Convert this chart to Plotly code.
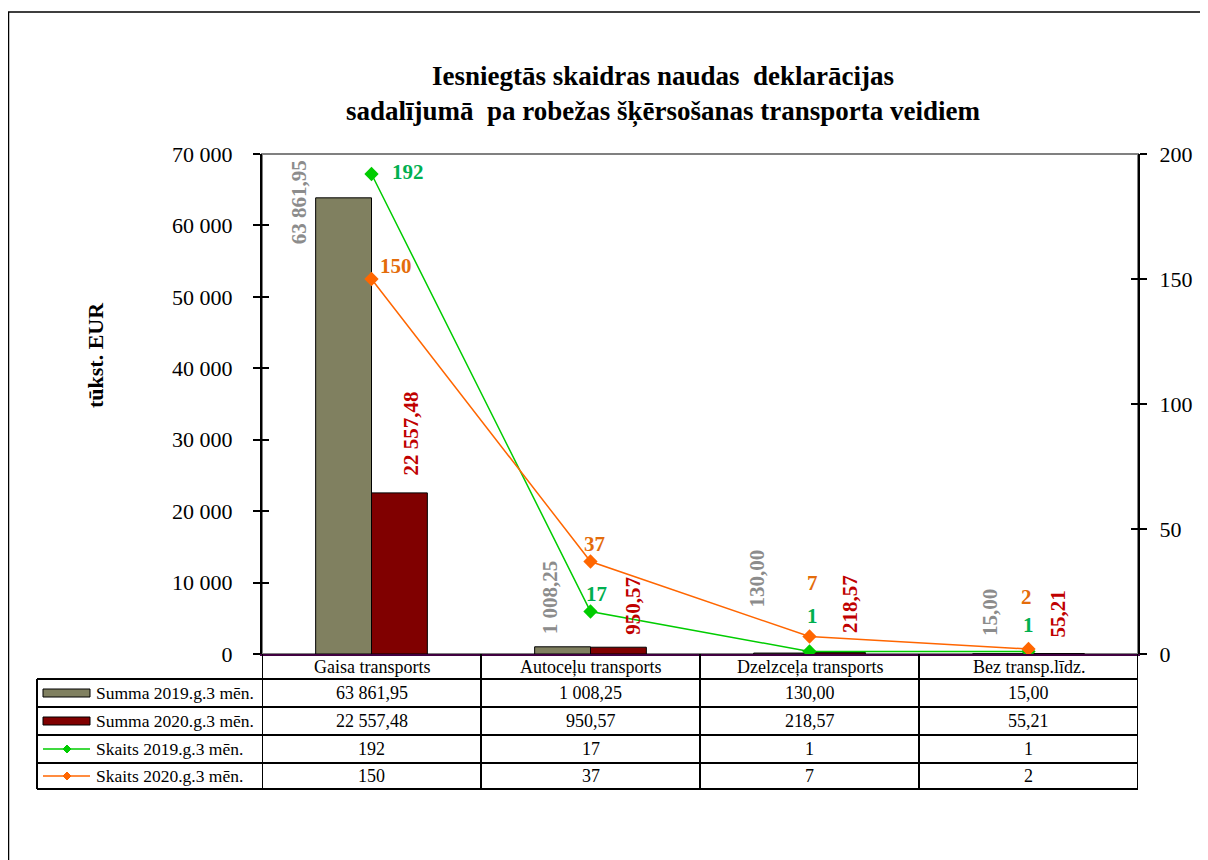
import plotly.graph_objects as go

# ---------------- data ----------------
categories = ["Gaisa transports", "Autoceļu transports", "Dzelzceļa transports", "Bez transp.līdz."]
summa_2019 = [63861.95, 1008.25, 130.00, 15.00]
summa_2020 = [22557.48, 950.57, 218.57, 55.21]
skaits_2019 = [192, 17, 1, 1]
skaits_2020 = [150, 37, 7, 2]
series_names = ["Summa 2019.g.3 mēn.", "Summa 2020.g.3 mēn.", "Skaits 2019.g.3 mēn.", "Skaits 2020.g.3 mēn."]
title_text = "Iesniegtās skaidras naudas\u00a0 deklarācijas<br>sadalījumā\u00a0 pa robežas šķērsošanas transporta veidiem"
y_title = "tūkst. EUR"

# ---------------- styles ----------------
OLIVE = "#808060"
MAROON = "#800000"
GREEN = "#00CC00"
ORANGE = "#FF6600"
GREEN_LBL = "#00B050"
ORANGE_LBL = "#E46C0A"
GRAY_LBL = "#8C8C8C"
RED_LBL = "#C00000"
FONT = "Liberation Serif"

# page offset (default body margin of the html page)
OFF = 8
W, H = 1208 - OFF, 860 - OFF
# plot area in page pixels
L, R, T, B = 262, 1138, 154, 654


def px(x):
    return (x - L) / (R - L)


def py(y):
    return (B - y) / (B - T)


def fmt2(v):
    return f"{v:,.2f}".replace(",", " ").replace(".", ",")


# label offsets (pixels)
lbl19_dx = [-73, -41, -52, -38]
lbl19_dy = [-49, 10, 43, 16]
lbl20_dx = [39, 43, 41, 30]
lbl20_dy = [15, 10, 17, 14]
sk19_dx = [36, 6, 3, 0]
sk19_dy = [2, 18, 36, 27]
sk20_dx = [24, 4, 3, -2]
sk20_dy = [13, 18, 54, 52]

fig = go.Figure()
fig.add_trace(go.Bar(x=categories, y=summa_2019, name=series_names[0],
                     marker=dict(color=OLIVE, line=dict(color="black", width=1))))
fig.add_trace(go.Bar(x=categories, y=summa_2020, name=series_names[1],
                     marker=dict(color=MAROON, line=dict(color="black", width=1))))
fig.add_trace(go.Scatter(x=categories, y=skaits_2019, name=series_names[2], yaxis="y2",
                         mode="lines+markers", line=dict(color=GREEN, width=1.5),
                         marker=dict(symbol="diamond", size=11, color=GREEN)))
fig.add_trace(go.Scatter(x=categories, y=skaits_2020, name=series_names[3], yaxis="y2",
                         mode="lines+markers", line=dict(color=ORANGE, width=1.5),
                         marker=dict(symbol="diamond", size=11, color=ORANGE)))
# invisible helpers so the inner tick axes are drawn
fig.add_trace(go.Scatter(x=categories, y=summa_2019, yaxis="y3", mode="markers",
                         marker=dict(opacity=0), hoverinfo="skip", showlegend=False))
fig.add_trace(go.Scatter(x=categories, y=skaits_2019, yaxis="y4", mode="markers",
                         marker=dict(opacity=0), hoverinfo="skip", showlegend=False))

ann = []
shapes = []

# title
ann.append(dict(text=title_text, xref="paper", yref="paper", x=px(663), y=py(94.5),
                xanchor="center", yanchor="middle", showarrow=False,
                font=dict(family=FONT, size=27, color="black", weight="bold")))
# y title
ann.append(dict(text=y_title, xref="paper", yref="paper", x=px(95), y=py(355),
                textangle=-90, xanchor="center", yanchor="middle", showarrow=False,
                font=dict(family=FONT, size=22, color="black", weight="bold")))

LBL = 21
# data labels
for i, c in enumerate(categories):
    ann.append(dict(text=fmt2(summa_2019[i]), x=c, y=summa_2019[i], xref="x", yref="y",
                    textangle=-90, xanchor="center", yanchor="bottom", showarrow=False,
                    xshift=lbl19_dx[i], yshift=lbl19_dy[i],
                    font=dict(family=FONT, size=LBL, color=GRAY_LBL, weight="bold")))
    ann.append(dict(text=fmt2(summa_2020[i]), x=c, y=summa_2020[i], xref="x", yref="y",
                    textangle=-90, xanchor="center", yanchor="bottom", showarrow=False,
                    xshift=lbl20_dx[i], yshift=lbl20_dy[i],
                    font=dict(family=FONT, size=LBL, color=RED_LBL, weight="bold")))
    ann.append(dict(text=str(skaits_2019[i]), x=c, y=skaits_2019[i], xref="x", yref="y2",
                    xanchor="center", yanchor="middle", showarrow=False,
                    xshift=sk19_dx[i], yshift=sk19_dy[i],
                    font=dict(family=FONT, size=LBL, color=GREEN_LBL, weight="bold")))
    ann.append(dict(text=str(skaits_2020[i]), x=c, y=skaits_2020[i], xref="x", yref="y2",
                    xanchor="center", yanchor="middle", showarrow=False,
                    xshift=sk20_dx[i], yshift=sk20_dy[i],
                    font=dict(family=FONT, size=LBL, color=ORANGE_LBL, weight="bold")))

# ---------------- data table ----------------
row_y = [654, 679, 707, 735, 763, 789]
tbl_left = 37
LINE = dict(color="black", width=2)
for yy in row_y[1:]:
    shapes.append(dict(type="line", xref="paper", yref="paper", x0=px(tbl_left), x1=1,
                       y0=py(yy), y1=py(yy), line=LINE))
shapes.append(dict(type="line", xref="paper", yref="paper", x0=px(tbl_left), x1=px(tbl_left),
                   y0=py(row_y[1]), y1=py(row_y[-1]), line=LINE))
for k in range(len(categories) + 1):
    shapes.append(dict(type="line", xref="x", yref="paper", x0=k - 0.5, x1=k - 0.5,
                       y0=0, y1=py(row_y[-1]), line=LINE))

table_font = dict(family=FONT, size=18, color="black")
hdr_y = (row_y[0] + row_y[1]) / 2
for c in categories:
    ann.append(dict(text=c, x=c, y=py(hdr_y), xref="x", yref="paper", xanchor="center",
                    yanchor="middle", showarrow=False, font=table_font))

rows_vals = [
    [fmt2(v) for v in summa_2019],
    [fmt2(v) for v in summa_2020],
    [str(v) for v in skaits_2019],
    [str(v) for v in skaits_2020],
]
swatch_colors = [OLIVE, MAROON, GREEN, ORANGE]
for r in range(4):
    cy = (row_y[r + 1] + row_y[r + 2]) / 2
    for i, c in enumerate(categories):
        ann.append(dict(text=rows_vals[r][i], x=c, y=py(cy), xref="x", yref="paper",
                        xanchor="center", yanchor="middle", showarrow=False, font=table_font))
    ann.append(dict(text=series_names[r], x=px(94), y=py(cy), xref="paper", yref="paper",
                    xanchor="left", yanchor="middle", showarrow=False,
                    font=dict(family=FONT, size=17.5, color="black")))
    if r < 2:
        shapes.append(dict(type="rect", xref="paper", yref="paper", x0=px(43), x1=px(90),
                           y0=py(cy + 4), y1=py(cy - 4), fillcolor=swatch_colors[r],
                           line=dict(color="black", width=1)))
    else:
        shapes.append(dict(type="line", xref="paper", yref="paper", x0=px(43), x1=px(90),
                           y0=py(cy), y1=py(cy), line=dict(color=swatch_colors[r], width=1.5)))
        cx = 67
        d = 4
        path = (f"M {px(cx)},{py(cy - d)} L {px(cx + d)},{py(cy)} L {px(cx)},{py(cy + d)} "
                f"L {px(cx - d)},{py(cy)} Z")
        shapes.append(dict(type="path", xref="paper", yref="paper", path=path,
                           fillcolor=swatch_colors[r], line=dict(color=swatch_colors[r], width=1)))

# plot area border (gray) and outer frame
shapes.append(dict(type="rect", xref="paper", yref="paper", x0=0, x1=1, y0=0, y1=1,
                   line=dict(color="#808080", width=2), layer="below"))
shapes.append(dict(type="rect", xref="paper", yref="paper", x0=px(8.5), x1=px(1220),
                   y0=py(880), y1=py(12), line=dict(color="black", width=1.5)))

axis_common = dict(showgrid=False, zeroline=False, fixedrange=True)
fig.update_layout(
    width=W, height=H,
    margin=dict(l=L - OFF, r=1208 - R, t=T - OFF, b=860 - B, pad=0),
    paper_bgcolor="white", plot_bgcolor="white",
    separators=", ",
    barmode="group", bargap=0.49, bargroupgap=0,
    showlegend=False,
    font=dict(family=FONT, color="black"),
    xaxis=dict(type="category", range=[-0.5, 3.5], showticklabels=False, ticks="",
               showline=True, linecolor="#400040", linewidth=2, **axis_common),
    yaxis=dict(range=[0, 70000], dtick=10000, tickformat=",", ticks="outside", ticklen=7,
               tickwidth=1.5, tickcolor="black", showline=True, linecolor="black", linewidth=2,
               tickfont=dict(family=FONT, size=22, color="black"), ticklabelstandoff=16,
               **axis_common),
    yaxis2=dict(overlaying="y", side="right", range=[0, 200], dtick=50, ticks="outside",
                ticklen=7, tickwidth=1.5, tickcolor="black", showline=True, linecolor="black",
                linewidth=2, tickfont=dict(family=FONT, size=22, color="black"),
                ticklabelstandoff=8, **axis_common),
    yaxis3=dict(overlaying="y", side="left", range=[0, 70000], dtick=10000, ticks="inside",
                ticklen=7, tickwidth=1.5, tickcolor="black", showticklabels=False,
                showline=False, **axis_common),
    yaxis4=dict(overlaying="y", side="right", range=[0, 200], dtick=50, ticks="inside",
                ticklen=7, tickwidth=1.5, tickcolor="black", showticklabels=False,
                showline=False, **axis_common),
    annotations=ann,
    shapes=shapes,
)

fig.write_html("out.html")
